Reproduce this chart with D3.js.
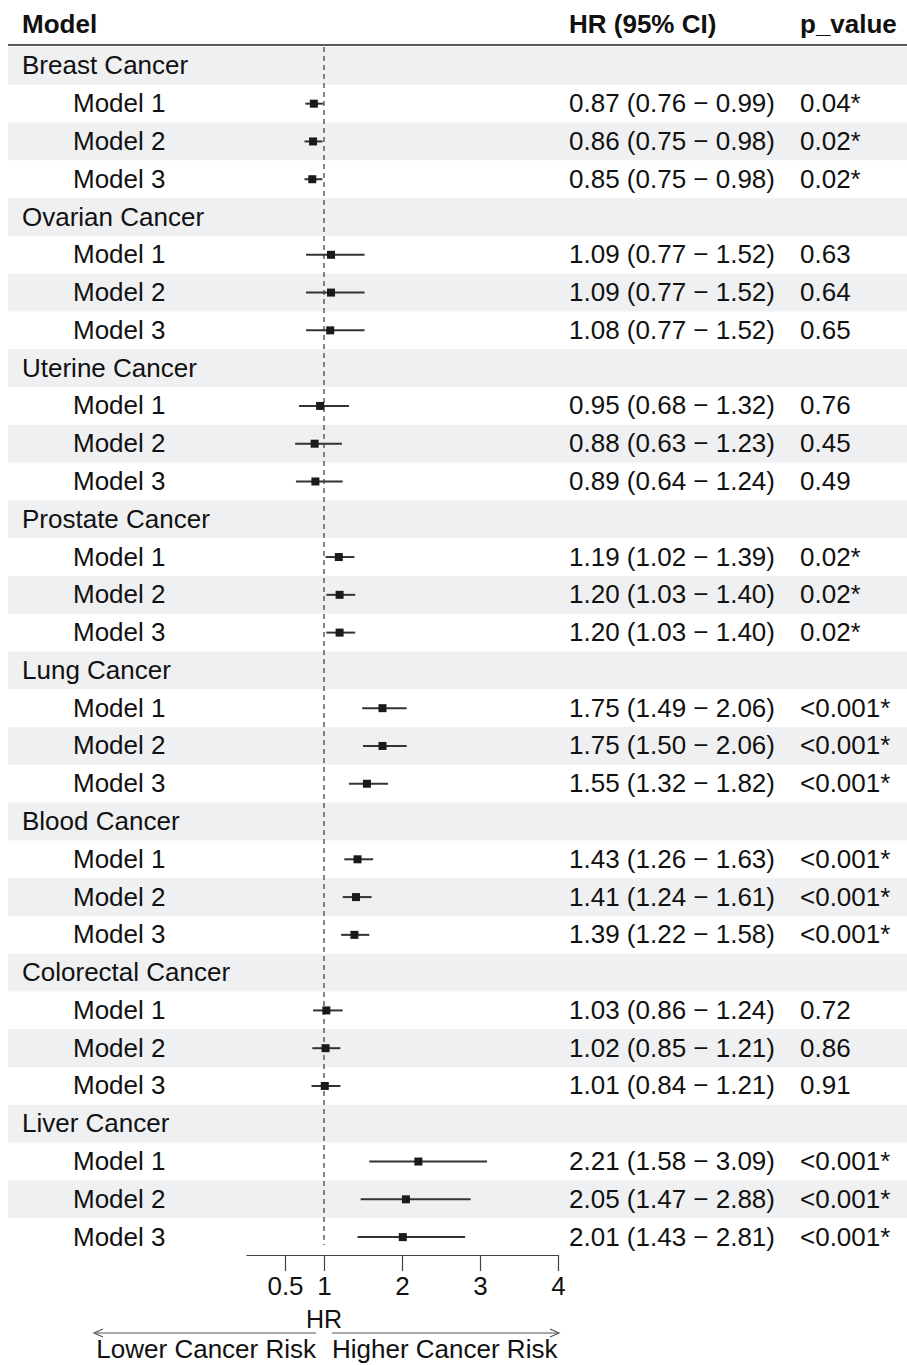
<!DOCTYPE html>
<html>
<head>
<meta charset="utf-8">
<script src="https://cdn.jsdelivr.net/npm/d3@7"></script>
<style>
  html, body { margin: 0; padding: 0; background: #fff; }
  svg { display: block; font-family: "Liberation Sans", Arial, Helvetica, sans-serif; }
</style>
</head>
<body>
<div id="chart"></div>
<script>
// Cancer types and the three adjustment models shown under each
const groups = ["Breast Cancer", "Ovarian Cancer", "Uterine Cancer", "Prostate Cancer",
                "Lung Cancer", "Blood Cancer", "Colorectal Cancer", "Liver Cancer"];
const models = ["Model 1", "Model 2", "Model 3"];

// Hazard ratios and 95% confidence limits, three models per cancer type
const hr    = [0.87, 0.86, 0.85, 1.09, 1.09, 1.08, 0.95, 0.88, 0.89, 1.19, 1.20, 1.20,
               1.75, 1.75, 1.55, 1.43, 1.41, 1.39, 1.03, 1.02, 1.01, 2.21, 2.05, 2.01];
const lower = [0.76, 0.75, 0.75, 0.77, 0.77, 0.77, 0.68, 0.63, 0.64, 1.02, 1.03, 1.03,
               1.49, 1.50, 1.32, 1.26, 1.24, 1.22, 0.86, 0.85, 0.84, 1.58, 1.47, 1.43];
const upper = [0.99, 0.98, 0.98, 1.52, 1.52, 1.52, 1.32, 1.23, 1.24, 1.39, 1.40, 1.40,
               2.06, 2.06, 1.82, 1.63, 1.61, 1.58, 1.24, 1.21, 1.21, 3.09, 2.88, 2.81];
const pValues = ["0.04*", "0.02*", "0.02*", "0.63", "0.64", "0.65", "0.76", "0.45", "0.49",
                 "0.02*", "0.02*", "0.02*", "<0.001*", "<0.001*", "<0.001*",
                 "<0.001*", "<0.001*", "<0.001*", "0.72", "0.86", "0.91",
                 "<0.001*", "<0.001*", "<0.001*"];

// Axis ticks and column headings
const xTicks = [0.5, 1, 2, 3, 4];
const headers = ["Model", "HR (95% CI)", "p_value"];
const arrowLabels = ["Lower Cancer Risk", "Higher Cancer Risk"];

// Flatten into table rows: a heading row per cancer type, then its models
const rows = [];
groups.forEach((g, gi) => {
  rows.push({ type: "group", label: g });
  models.forEach((m, mi) => {
    const k = gi * models.length + mi;
    rows.push({ type: "model", label: m, hr: hr[k], lo: lower[k], hi: upper[k], p: pValues[k] });
  });
});

const W = 907, H = 1365;
const textColor = "#111";
const fontSize = 26;

const svg = d3.select("#chart").append("svg")
  .attr("width", W).attr("height", H);

const y = d3.scaleBand()
  .domain(d3.range(rows.length))
  .range([47, 1256])
  .padding(0);

const x = d3.scaleLinear().domain([0, 4]).range([246, 558]);

const colLabelX = 22, colIndentX = 73, colHRX = 569, colPX = 800;

// Alternating row shading
svg.append("g").selectAll("rect")
  .data(rows.map((r, i) => i).filter(i => i % 2 === 0))
  .join("rect")
  .attr("x", 8).attr("width", W - 8)
  .attr("y", i => y(i)).attr("height", y.bandwidth())
  .attr("fill", "#eff0f2");

// Column headings
svg.append("g").selectAll("text")
  .data(headers)
  .join("text")
  .attr("x", (d, i) => [colLabelX, colHRX, colPX][i])
  .attr("y", 33)
  .attr("font-size", fontSize)
  .attr("font-weight", "bold")
  .attr("fill", textColor)
  .text(d => d);

svg.append("line")
  .attr("x1", 8).attr("x2", W).attr("y1", 45).attr("y2", 45)
  .attr("stroke", "#222").attr("stroke-width", 1.5);

// Reference line at HR = 1
svg.append("line")
  .attr("x1", x(1)).attr("x2", x(1))
  .attr("y1", y(0)).attr("y2", 1245)
  .attr("stroke", "#444").attr("stroke-width", 1.3)
  .attr("stroke-dasharray", "5,4");

const baseline = i => y(i) + y.bandwidth() / 2 + 8.5;

// Row labels
svg.append("g").selectAll("text")
  .data(rows)
  .join("text")
  .attr("x", d => d.type === "group" ? colLabelX : colIndentX)
  .attr("y", (d, i) => baseline(i))
  .attr("font-size", fontSize)
  .attr("fill", textColor)
  .text(d => d.label);

const fmt = d3.format(".2f");
const modelRows = rows.map((r, i) => ({ ...r, i })).filter(r => r.type === "model");

// HR (95% CI) column
svg.append("g").selectAll("text")
  .data(modelRows)
  .join("text")
  .attr("x", colHRX)
  .attr("y", d => baseline(d.i))
  .attr("font-size", fontSize)
  .attr("fill", textColor)
  .text(d => `${fmt(d.hr)} (${fmt(d.lo)} \u2212 ${fmt(d.hi)})`);

// p value column
svg.append("g").selectAll("text")
  .data(modelRows)
  .join("text")
  .attr("x", colPX)
  .attr("y", d => baseline(d.i))
  .attr("font-size", fontSize)
  .attr("fill", textColor)
  .text(d => d.p);

// Confidence interval whiskers
const cy = i => y(i) + y.bandwidth() / 2;
svg.append("g").selectAll("line")
  .data(modelRows)
  .join("line")
  .attr("x1", d => x(d.lo)).attr("x2", d => x(d.hi))
  .attr("y1", d => cy(d.i)).attr("y2", d => cy(d.i))
  .attr("stroke", "#333").attr("stroke-width", 2);

// Point estimates
const sq = 8;
svg.append("g").selectAll("rect")
  .data(modelRows)
  .join("rect")
  .attr("x", d => x(d.hr) - sq / 2).attr("y", d => cy(d.i) - sq / 2)
  .attr("width", sq).attr("height", sq)
  .attr("fill", "#1a1a1a");

// HR axis
const axisY = 1255;
const axis = svg.append("g")
  .attr("transform", `translate(0,${axisY})`)
  .call(d3.axisBottom(x).tickValues(xTicks).tickFormat(d3.format("~g"))
    .tickSize(16).tickSizeOuter(0).tickPadding(6));
axis.select(".domain").attr("stroke", "#444").attr("stroke-width", 1.2);
axis.selectAll(".tick line").attr("stroke", "#444").attr("stroke-width", 1.2);
axis.selectAll(".tick text")
  .attr("font-size", fontSize)
  .attr("font-family", "'Liberation Sans', Arial, sans-serif")
  .attr("fill", textColor);

svg.append("text")
  .attr("x", x(1)).attr("y", 1328)
  .attr("text-anchor", "middle")
  .attr("font-size", 25)
  .attr("fill", textColor)
  .text("HR");

// Direction arrows beneath the axis
const arrowY = 1333;
const arrowStroke = "#555";
const leftStart = 316, leftEnd = 94, rightStart = 332, rightEnd = x(4) + 1;
const arrows = svg.append("g").attr("stroke", arrowStroke).attr("stroke-width", 1.2).attr("fill", "none");
arrows.append("line").attr("x1", leftStart).attr("x2", leftEnd).attr("y1", arrowY).attr("y2", arrowY);
arrows.append("path").attr("d", `M${leftEnd + 9},${arrowY - 4}L${leftEnd},${arrowY}L${leftEnd + 9},${arrowY + 4}`);
arrows.append("line").attr("x1", rightStart).attr("x2", rightEnd).attr("y1", arrowY).attr("y2", arrowY);
arrows.append("path").attr("d", `M${rightEnd - 9},${arrowY - 4}L${rightEnd},${arrowY}L${rightEnd - 9},${arrowY + 4}`);

svg.append("text")
  .attr("x", leftStart).attr("y", 1358)
  .attr("text-anchor", "end")
  .attr("font-size", fontSize)
  .attr("fill", textColor)
  .text(arrowLabels[0]);

svg.append("text")
  .attr("x", rightStart).attr("y", 1358)
  .attr("text-anchor", "start")
  .attr("font-size", fontSize)
  .attr("fill", textColor)
  .text(arrowLabels[1]);
</script>
</body>
</html>
